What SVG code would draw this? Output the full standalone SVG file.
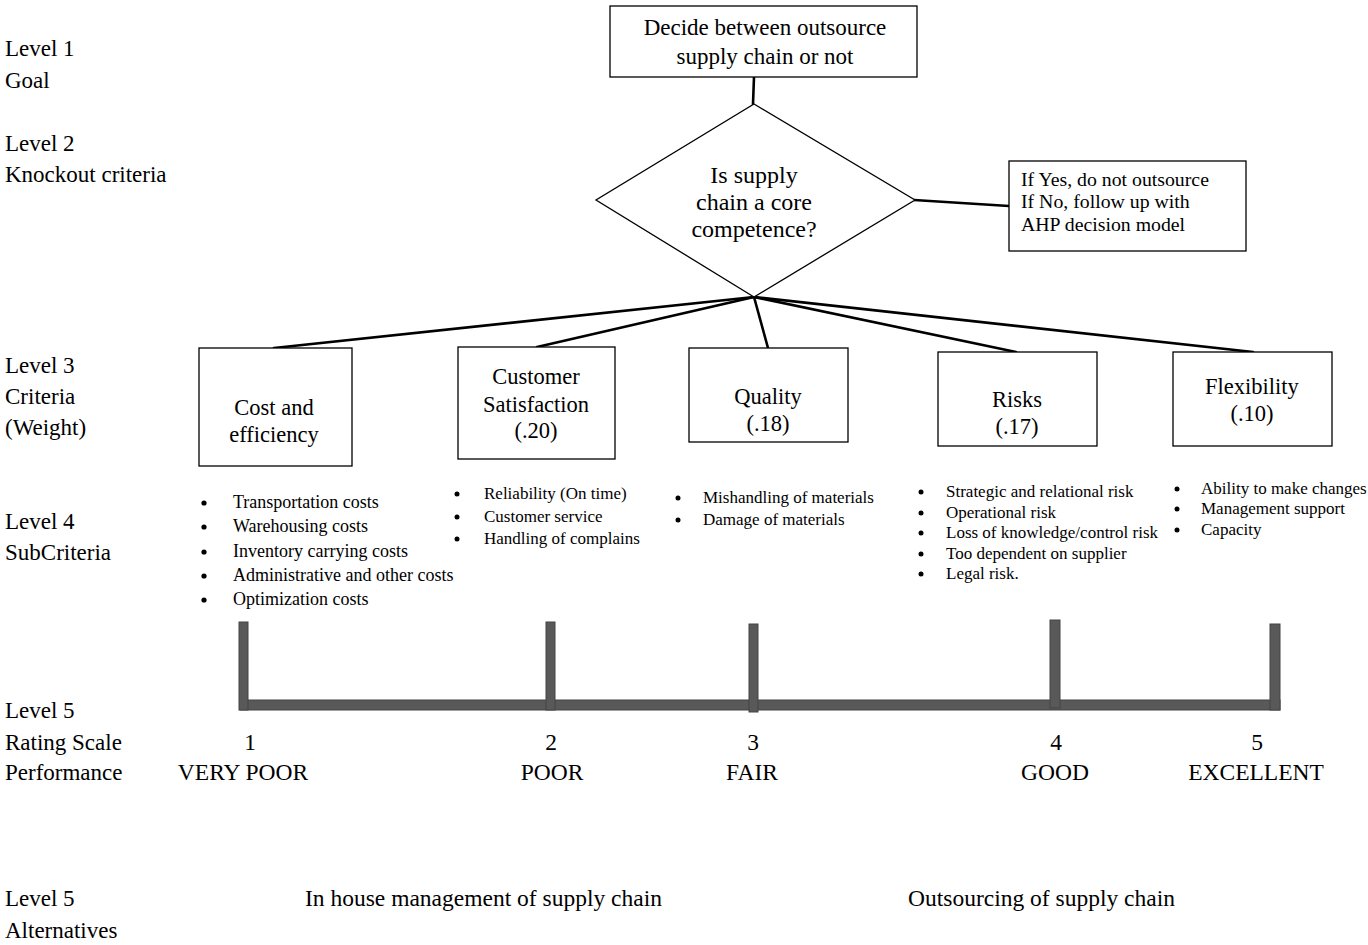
<svg xmlns="http://www.w3.org/2000/svg" width="1368" height="945" viewBox="0 0 1368 945">
<style>
text{font-family:"Liberation Serif","Times New Roman",serif;fill:#000}
.lbl{font-size:23px}
.big{font-size:23.5px}
.box{fill:#fff;stroke:#000;stroke-width:1.3}
.c{text-anchor:middle}
.crit{font-size:22.5px}
.sub{font-size:17px}
.sub18{font-size:18px}
.dot{fill:#000}
.conn{stroke:#000;stroke-width:2.6;fill:none;stroke-linecap:round}
.bar{fill:#595959;stroke:#444;stroke-width:1}
</style>
<rect width="1368" height="945" fill="#fff"/>
<g id="level-labels" class="lbl">
<text x="5" y="56">Level 1</text>
<text x="5" y="88">Goal</text>
<text x="5" y="151">Level 2</text>
<text x="5" y="182">Knockout criteria</text>
<text x="5" y="373">Level 3</text>
<text x="5" y="404">Criteria</text>
<text x="5" y="435">(Weight)</text>
<text x="5" y="529">Level 4</text>
<text x="5" y="560">SubCriteria</text>
<text x="5" y="718">Level 5</text>
<text x="5" y="750">Rating Scale</text>
<text x="5" y="780">Performance</text>
<text x="5" y="906">Level 5</text>
<text x="5" y="938">Alternatives</text>
</g>
<g id="connectors">
<line class="conn" x1="754" y1="77" x2="753" y2="104"/>
<line class="conn" x1="914" y1="200" x2="1009" y2="206"/>
<line class="conn" x1="754" y1="297" x2="274" y2="348"/>
<line class="conn" x1="754" y1="297" x2="537" y2="347"/>
<line class="conn" x1="754" y1="297" x2="768" y2="348"/>
<line class="conn" x1="754" y1="297" x2="1016" y2="352"/>
<line class="conn" x1="754" y1="297" x2="1253" y2="352"/>
</g>
<g id="goal">
<rect class="box" x="610" y="6" width="307" height="71"/>
<text class="c" x="765" y="35" font-size="23">Decide between outsource</text>
<text class="c" x="765" y="64" font-size="23">supply chain or not</text>
</g>
<g id="knockout">
<polygon class="box" points="754,104 915,200 754,297 596,200"/>
<text class="c" x="754" y="183" font-size="24">Is supply</text>
<text class="c" x="754" y="210" font-size="24">chain a core</text>
<text class="c" x="754" y="237" font-size="24">competence?</text>
</g>
<g id="knockout-note">
<rect class="box" x="1009" y="161" width="237" height="90"/>
<text x="1021" y="186" font-size="19.8">If Yes, do not outsource</text>
<text x="1021" y="208" font-size="19.8">If No, follow  up with</text>
<text x="1021" y="231" font-size="19.8">AHP decision  model</text>
</g>
<g id="crit-cost">
<rect class="box" x="199" y="348" width="153" height="118"/>
<text class="c crit" x="274" y="415">Cost and</text>
<text class="c crit" x="274" y="442">efficiency</text>
</g>
<g id="crit-customer">
<rect class="box" x="458" y="347" width="157" height="112"/>
<text class="c crit" x="536" y="384">Customer</text>
<text class="c crit" x="536" y="412">Satisfaction</text>
<text class="c crit" x="536" y="438">(.20)</text>
</g>
<g id="crit-quality">
<rect class="box" x="689" y="348" width="159" height="94"/>
<text class="c crit" x="768" y="404">Quality</text>
<text class="c crit" x="768" y="431">(.18)</text>
</g>
<g id="crit-risks">
<rect class="box" x="938" y="352" width="159" height="94"/>
<text class="c crit" x="1017" y="407">Risks</text>
<text class="c crit" x="1017" y="434">(.17)</text>
</g>
<g id="crit-flex">
<rect class="box" x="1173" y="352" width="159" height="94"/>
<text class="c crit" x="1252" y="394">Flexibility</text>
<text class="c crit" x="1252" y="421">(.10)</text>
</g>
<g id="sub-cost" class="sub18">
<circle class="dot" cx="204" cy="503" r="2.6"/><text x="233" y="508">Transportation costs</text>
<circle class="dot" cx="204" cy="527" r="2.6"/><text x="233" y="532">Warehousing costs</text>
<circle class="dot" cx="204" cy="552" r="2.6"/><text x="233" y="557">Inventory carrying costs</text>
<circle class="dot" cx="204" cy="576" r="2.6"/><text x="233" y="581">Administrative and other costs</text>
<circle class="dot" cx="204" cy="600" r="2.6"/><text x="233" y="605">Optimization costs</text>
</g>
<g id="sub-customer" class="sub">
<circle class="dot" cx="457" cy="494" r="2.5"/><text x="484" y="499">Reliability (On time)</text>
<circle class="dot" cx="457" cy="517" r="2.5"/><text x="484" y="522">Customer service</text>
<circle class="dot" cx="457" cy="539" r="2.5"/><text x="484" y="544">Handling of complains</text>
</g>
<g id="sub-quality" class="sub">
<circle class="dot" cx="678" cy="498" r="2.5"/><text x="703" y="503">Mishandling of materials</text>
<circle class="dot" cx="678" cy="520" r="2.5"/><text x="703" y="525">Damage of materials</text>
</g>
<g id="sub-risks" class="sub">
<circle class="dot" cx="921" cy="492" r="2.5"/><text x="946" y="497">Strategic and relational risk</text>
<circle class="dot" cx="921" cy="513" r="2.5"/><text x="946" y="518">Operational risk</text>
<circle class="dot" cx="921" cy="533" r="2.5"/><text x="946" y="538">Loss of knowledge/control risk</text>
<circle class="dot" cx="921" cy="554" r="2.5"/><text x="946" y="559">Too dependent on supplier</text>
<circle class="dot" cx="921" cy="574" r="2.5"/><text x="946" y="579">Legal risk.</text>
</g>
<g id="sub-flex" class="sub">
<circle class="dot" cx="1177" cy="489" r="2.5"/><text x="1201" y="494">Ability to make changes</text>
<circle class="dot" cx="1177" cy="509" r="2.5"/><text x="1201" y="514">Management support</text>
<circle class="dot" cx="1177" cy="530" r="2.5"/><text x="1201" y="535">Capacity</text>
</g>
<g id="rating-scale">
<rect class="bar" x="240" y="700" width="1040" height="10"/>
<rect class="bar" x="239" y="622" width="9" height="88"/>
<rect class="bar" x="546" y="622" width="9" height="88"/>
<rect class="bar" x="749" y="624" width="9" height="88"/>
<rect class="bar" x="1050" y="620" width="10" height="88"/>
<rect class="bar" x="1270" y="624" width="10" height="86"/>
</g>
<g id="rating-labels" class="big">
<text class="c" x="250" y="750">1</text>
<text class="c" x="551" y="750">2</text>
<text class="c" x="753" y="750">3</text>
<text class="c" x="1056" y="750">4</text>
<text class="c" x="1257" y="750">5</text>
<text class="c" x="243" y="780">VERY POOR</text>
<text class="c" x="552" y="780">POOR</text>
<text class="c" x="752" y="780">FAIR</text>
<text class="c" x="1055" y="780">GOOD</text>
<text class="c" x="1256" y="780">EXCELLENT</text>
</g>
<g id="alternatives" class="big">
<text x="305" y="906">In house management of supply chain</text>
<text x="908" y="906">Outsourcing of supply chain</text>
</g>
</svg>
